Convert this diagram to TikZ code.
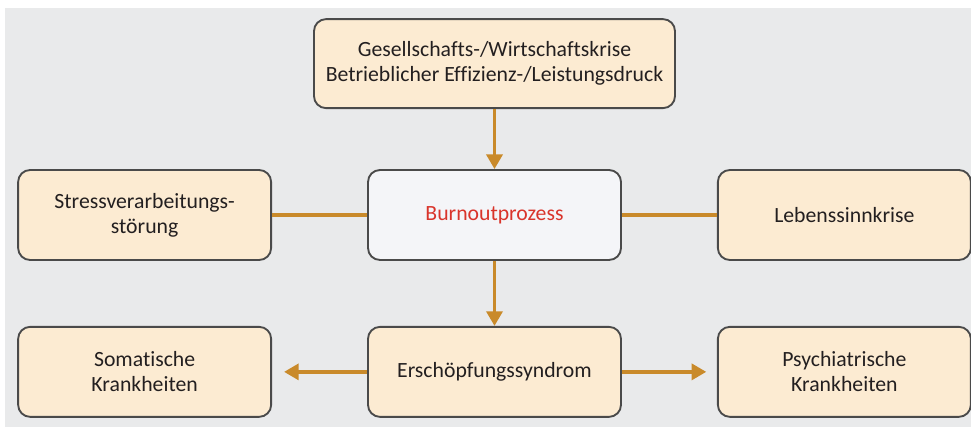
\documentclass[tikz,border=0pt]{standalone}
\usepackage{fontspec}
\setmainfont{Carlito}[Ligatures=NoCommon]
\usepackage{tikz}
\usetikzlibrary{
    arrows.meta,
    positioning
}
\definecolor{bggray}{HTML}{E9EAEB}
\definecolor{peach}{HTML}{FCEBD2}
\definecolor{paleblue}{HTML}{F4F5F8}
\definecolor{ochre}{HTML}{C98A2A}
\definecolor{boxline}{HTML}{4A4A4A}
\definecolor{burnred}{HTML}{D9342B}
\definecolor{inkgray}{HTML}{231F20}
\tikzstyle{factor} = [
    rectangle,
    rounded corners=9pt,
    draw=boxline,
    line width=1.4pt,
    fill=peach,
    text=inkgray,
    minimum width=189.75pt,
    minimum height=67.5pt,
    align=center,
    font=\fontsize{16.3}{19}\selectfont
]
\tikzstyle{link} = [
    line width=2.6pt,
    draw=ochre
]
\tikzstyle{arrow} = [
    link,
    -{Triangle[width=12pt,length=11pt]},
    ochre
]

\begin{document}
\begin{tikzpicture}[x=0.75pt, y=-0.75pt]
        % Background
        \fill[white] (0,0) rectangle (971,427);
        \fill[bggray] (5,8) rectangle (971,427);
        \useasboundingbox (0,0) rectangle (971,427);

        % Boxes
        \node[factor, fill=paleblue, text=burnred] (burnout) at (494.5,215) {Burnoutprozess};
        \node[factor, minimum width=270.75pt, minimum height=66.75pt, above=45pt of burnout] (crisis)
            {Gesellschafts-/Wirtschaftskrise\\Betrieblicher Effizienz-/Leistungsdruck};
        \node[factor, left=71.25pt of burnout] (stress) {Stressverarbeitungs-\\störung};
        \node[factor, right=71.25pt of burnout] (meaning) {Lebenssinnkrise};
        \node[factor, below=48.75pt of burnout] (exhaust) {Erschöpfungssyndrom};
        \node[factor, left=71.25pt of exhaust] (somatic) {Somatische\\Krankheiten};
        \node[factor, right=71.25pt of exhaust] (psych) {Psychiatrische\\Krankheiten};

        % Connectors
        \draw[arrow] (crisis) -- (burnout);
        \draw[arrow] (burnout) -- (exhaust);
        \draw[link] (stress) -- (burnout);
        \draw[link] (burnout) -- (meaning);
        \draw[arrow, shorten >=9pt] (exhaust) -- (somatic);
        \draw[arrow, shorten >=8pt] (exhaust) -- (psych);
    \end{tikzpicture}
\end{document}
